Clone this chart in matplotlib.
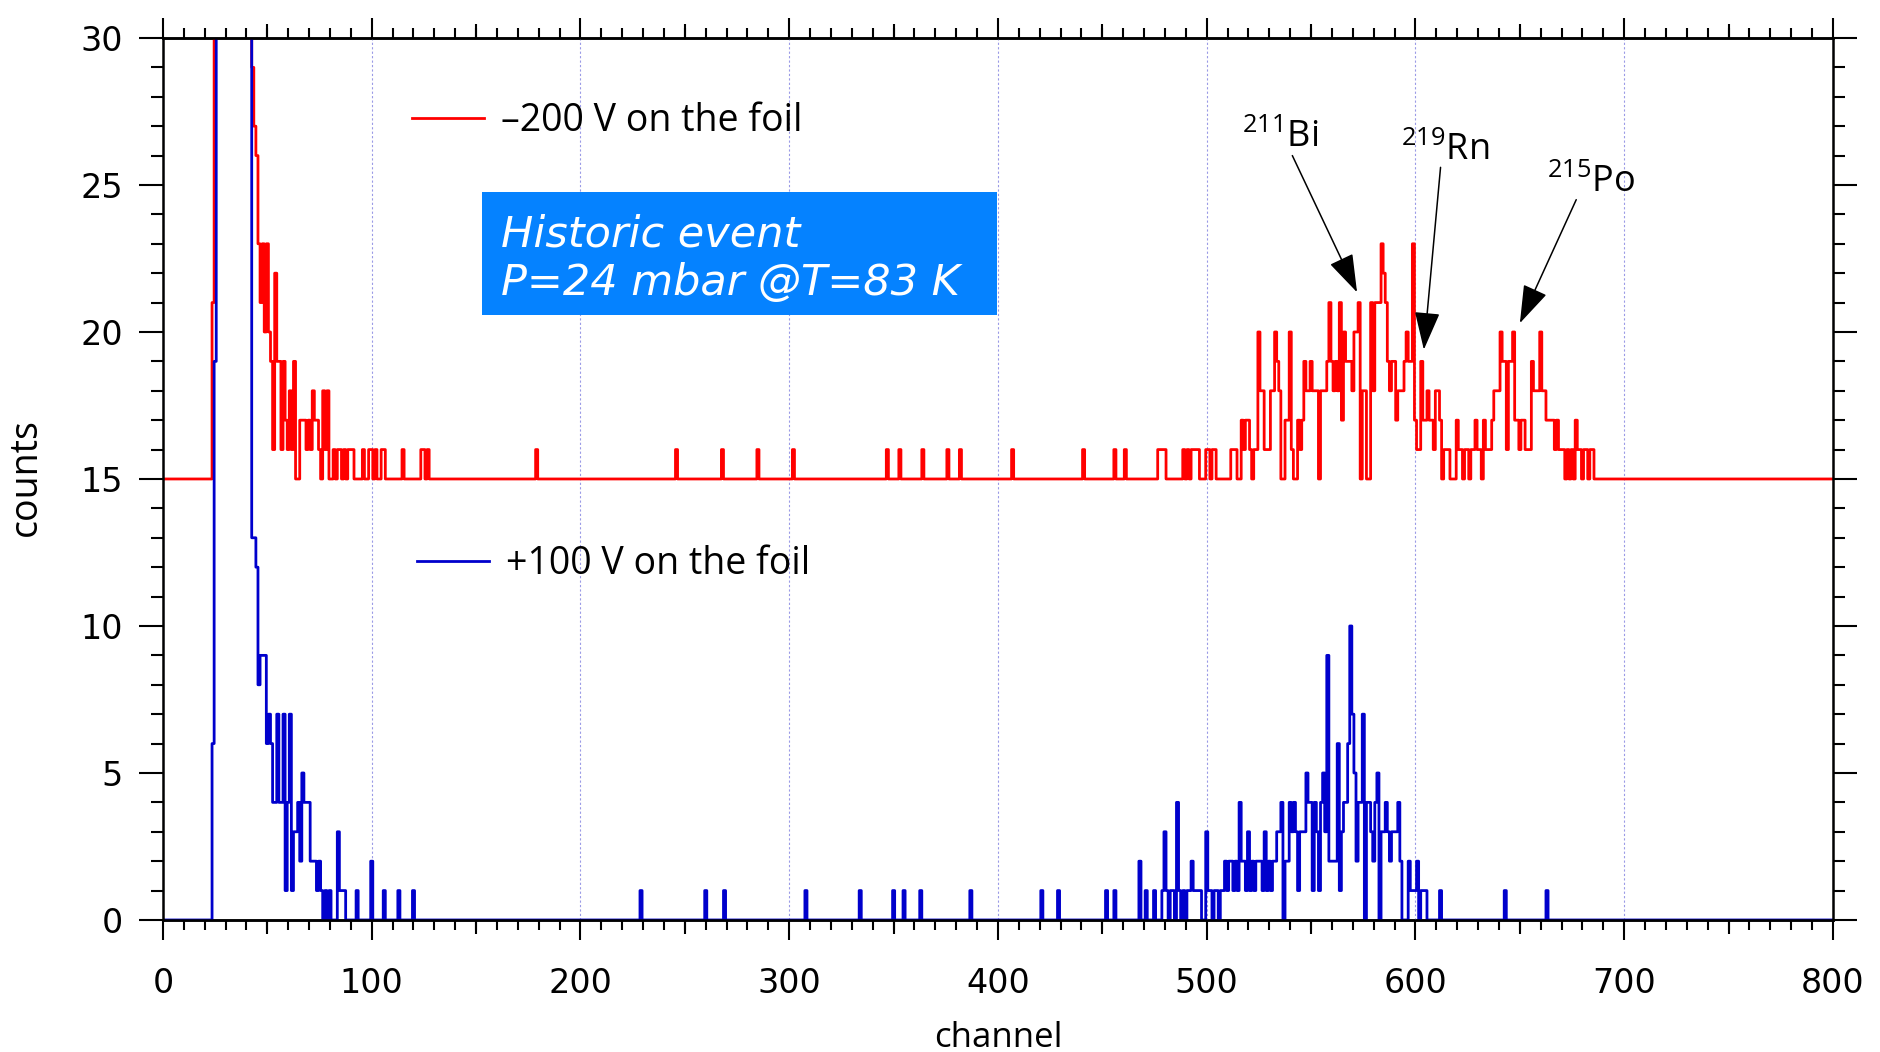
import numpy as np
import matplotlib
matplotlib.use("Agg")
import matplotlib.pyplot as plt
from matplotlib.patches import Rectangle

plt.rcParams["font.family"] = ["Open Sans", "DejaVu Sans"]
plt.rcParams["mathtext.default"] = "regular"

# ---- data: counts per channel (values of 60/50 are off scale, clipped at 30) ----
n_channels = 800
red_offset = 15

red_start_a = 24
red_a = [6, 15, 15, 60, 60, 60, 60, 60, 60, 60,
         60, 60, 60, 60, 60, 60, 60, 60, 60, 14,
         12, 11, 8, 6, 8, 5, 8, 5, 4, 1,
         7, 4, 4, 1, 4, 2, 1, 3, 1, 4,
         0, 0, 2, 2, 2, 1, 2, 1, 3, 2,
         2, 1, 0, 3, 1, 3, 0, 0, 1, 0,
         1, 1, 0, 1, 0, 1, 1, 1, 0, 0,
         0, 0, 1, 0, 0, 1, 1, 0, 1, 0,
         0, 1, 1]
red_spike_ch = [115, 124, 125, 127, 179, 246, 268, 285, 302, 347, 353, 364,
                376, 382, 407, 441, 456, 461]
red_spike_n = [1, 1, 1, 1, 1, 1, 1, 1, 1, 1, 1, 1,
               1, 1, 1, 1, 1, 1]
red_start_b = 477
red_b = [1, 1, 1, 1, 0, 0, 0, 0, 0, 0,
         0, 0, 1, 0, 1, 0, 1, 1, 1, 1,
         0, 0, 0, 1, 1, 0, 1, 1, 0, 0,
         0, 0, 0, 0, 0, 1, 1, 1, 0, 0,
         2, 1, 2, 2, 1, 0, 1, 1, 5, 3,
         3, 1, 1, 1, 3, 3, 5, 4, 3, 0,
         0, 2, 2, 5, 1, 0, 0, 2, 1, 2,
         4, 3, 3, 4, 3, 3, 3, 0, 3, 3,
         3, 4, 6, 4, 3, 4, 3, 6, 2, 5,
         4, 4, 4, 3, 5, 5, 6, 0, 3, 3,
         0, 0, 6, 3, 6, 6, 6, 8, 7, 6,
         4, 3, 4, 4, 2, 3, 3, 3, 4, 5,
         4, 4, 8, 2, 1, 1, 4, 2, 2, 3,
         2, 2, 1, 3, 3, 2, 0, 1, 1, 1,
         0, 0, 0, 2, 1, 1, 0, 1, 1, 0,
         1, 1, 2, 1, 1, 0, 2, 1, 1, 1,
         2, 3, 3, 3, 5, 4, 4, 1, 4, 4,
         5, 2, 2, 1, 2, 2, 1, 1, 1, 4,
         3, 3, 3, 5, 3, 3, 2, 2, 2, 2,
         1, 2, 1, 1, 1, 0, 1, 0, 1, 0,
         2, 1, 1, 0, 1, 1, 0, 1, 1]

blue_start_a = 24
blue_a = [6, 19, 50, 50, 50, 50, 50, 50, 50, 50,
          50, 50, 50, 50, 50, 50, 50, 50, 50, 13,
          13, 12, 8, 9, 9, 9, 6, 7, 6, 4,
          4, 7, 4, 4, 7, 1, 4, 7, 1, 3,
          3, 4, 2, 5, 4, 4, 4, 2, 2, 2,
          1, 2, 1, 0, 1, 0, 1, 0, 0, 0,
          3, 1, 1, 1]
blue_spike_ch = [93, 100, 106, 113, 120, 229, 260, 269, 308, 334, 350, 355,
                 363, 387, 421, 429, 452, 456, 468, 471, 475, 612, 643, 663]
blue_spike_n = [1, 2, 1, 1, 1, 1, 1, 1, 1, 1, 1, 1,
                1, 1, 1, 1, 1, 1, 2, 1, 1, 1, 1, 1]
blue_start_b = 479
blue_b = [1, 3, 1, 0, 1, 1, 0, 4, 1, 0,
          1, 0, 1, 1, 2, 1, 1, 1, 1, 0,
          0, 3, 1, 1, 0, 1, 1, 0, 1, 1,
          2, 1, 2, 2, 1, 2, 1, 4, 2, 2,
          1, 3, 1, 2, 1, 2, 2, 2, 1, 3,
          1, 2, 1, 2, 2, 3, 3, 4, 0, 2,
          2, 4, 3, 4, 3, 1, 3, 3, 3, 5,
          4, 4, 1, 4, 3, 1, 4, 5, 3, 9,
          2, 2, 2, 2, 6, 1, 3, 4, 4, 6,
          10, 7, 5, 2, 4, 4, 7, 0, 4, 4,
          3, 2, 4, 5, 0, 3, 3, 4, 3, 2,
          3, 3, 3, 4, 2, 0, 0, 0, 2, 1,
          1, 1, 2, 0, 1, 1, 1]

# annotation labels: (text, text x, text y, arrow tail, arrow head)
peak_labels = ["$^{211}$Bi", "$^{219}$Rn", "$^{215}$Po"]
label_xy = [(517, 26.3), (593, 25.85), (663, 24.75)]
arrow_tail = [(541, 26.0), (612, 25.6), (677, 24.5)]
arrow_head = [(572, 21.35), (604, 19.4), (650, 20.3)]


def build(start_a, vals_a, spike_ch, spike_n, start_b, vals_b):
    counts = np.zeros(n_channels + 1)
    counts[start_a:start_a + len(vals_a)] = vals_a
    counts[spike_ch] = spike_n
    counts[start_b:start_b + len(vals_b)] = vals_b
    return counts


channel = np.arange(n_channels + 1)
red = build(red_start_a, red_a, red_spike_ch, red_spike_n, red_start_b, red_b)
blue = build(blue_start_a, blue_a, blue_spike_ch, blue_spike_n, blue_start_b, blue_b)

fig = plt.figure(figsize=(18.8, 10.52), dpi=100)
ax = fig.add_axes([0.0867, 0.1255, 0.8883, 0.8384])

line_red, = ax.plot(channel, red + red_offset, drawstyle="steps-mid",
                    color="#ff0000", lw=2.0)
line_blue, = ax.plot(channel, blue, drawstyle="steps-mid",
                     color="#0000cc", lw=2.0)

ax.set_xlim(0, 800)
ax.set_ylim(0, 30)
ax.set_xticks(np.arange(0, 801, 100))
ax.set_xticks(np.arange(0, 801, 10), minor=True)
ax.set_yticks(np.arange(0, 31, 5))
ax.set_yticks(np.arange(0, 31, 1), minor=True)

ax.grid(axis="x", which="major", color="#9a9ae6", lw=0.8, linestyle=(0, (2, 2)))
ax.set_axisbelow(True)

for s in ax.spines.values():
    s.set_linewidth(1.8)

ax.tick_params(axis="x", which="major", direction="out", length=14.5, width=1.5,
               top=True, labelsize=24, pad=19)
ax.tick_params(axis="x", which="minor", direction="out", length=7, width=1.5, top=True)
ax.tick_params(axis="y", which="major", direction="out", length=17, width=1.5,
               right=True, labelsize=24, pad=12)
ax.tick_params(axis="y", which="minor", direction="out", length=8.5, width=1.5, right=True)
for lab in ax.get_xticklabels() + ax.get_yticklabels():
    lab.set_family("DejaVu Sans")

# medium ticks at the 50s
for loc in ["bottom", "top"]:
    sec = ax.secondary_xaxis(loc)
    sec.set_xticks(np.arange(50, 800, 100))
    sec.tick_params(direction="out", length=10, width=1.5, labelbottom=False,
                    labeltop=False)
    sec.spines[loc].set_linewidth(1.8)

ax.set_xlabel("channel", fontsize=25, va="center")
ax.xaxis.set_label_coords(0.5, -0.134)
ax.set_ylabel("counts", fontsize=27, va="center")
ax.yaxis.set_label_coords(-0.082, 0.502)

leg1 = ax.legend([line_red], ["\u2013200 V on the foil"], loc="center left",
                 bbox_to_anchor=(0.149, 0.906), frameon=False, borderpad=0,
                 borderaxespad=0, handlelength=1.92, handletextpad=0.45, fontsize=27)
ax.add_artist(leg1)
ax.legend([line_blue], ["+100 V on the foil"], loc="center left",
          bbox_to_anchor=(0.152, 0.404), frameon=False, borderpad=0,
          borderaxespad=0, handlelength=1.92, handletextpad=0.45, fontsize=27)

ax.add_patch(Rectangle((0.191, 0.686), 0.3087, 0.1394, transform=ax.transAxes,
                       facecolor="#0582ff", edgecolor="none", zorder=3))
box_font = ["DejaVu Sans"]
ax.text(0.2024, 0.764, "Historic event", transform=ax.transAxes, color="white",
        fontsize=31, style="italic", va="baseline", zorder=4, family=box_font)
ax.text(0.2024, 0.7085, "P=24 mbar @T=83 K", transform=ax.transAxes, color="white",
        fontsize=31, style="italic", va="baseline", zorder=4, family=box_font)

for lab, xy, tail, head in zip(peak_labels, label_xy, arrow_tail, arrow_head):
    ax.text(xy[0], xy[1], lab, fontsize=26, ha="left", va="baseline")
    ax.annotate("", xy=head, xytext=tail,
                arrowprops=dict(arrowstyle="-|>,head_length=1.2,head_width=0.4",
                                color="black", lw=1.1, shrinkA=0, shrinkB=0,
                                mutation_scale=20))

fig.savefig("out.png", dpi=100)
